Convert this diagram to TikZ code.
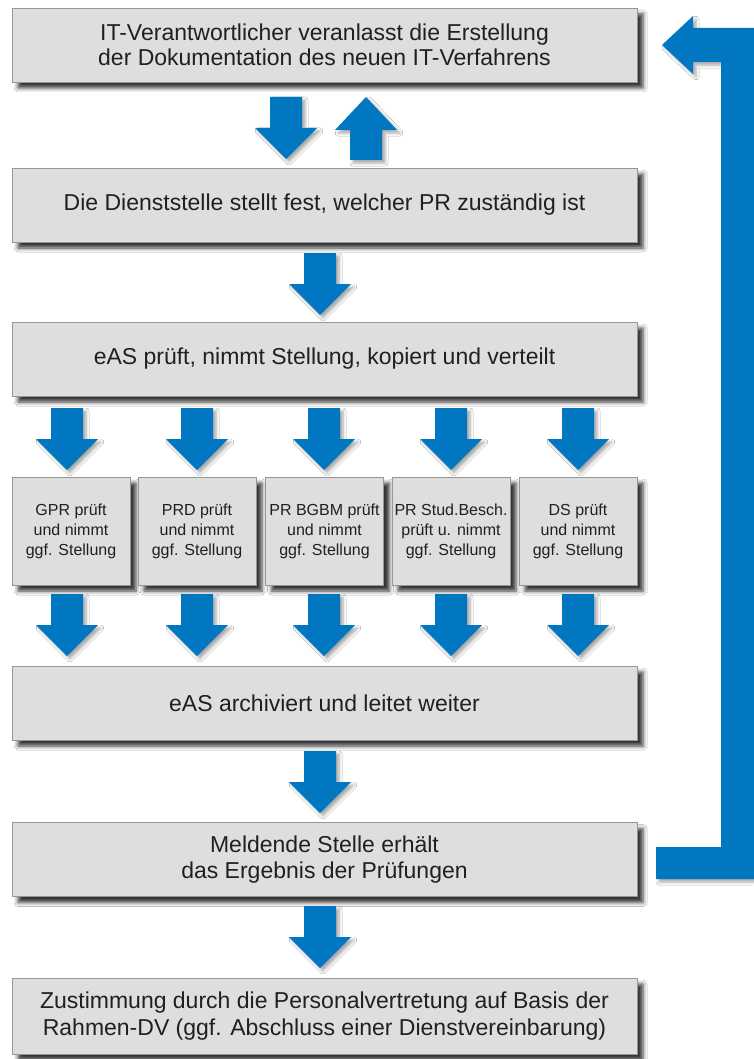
\documentclass[tikz,border=0pt]{standalone}
\usepackage{fontspec}
\setmainfont{Liberation Sans}
\usetikzlibrary{shadows.blur}
\definecolor{boxfill}{RGB}{222,222,220}
\definecolor{boxborder}{RGB}{150,150,150}
\definecolor{textcol}{RGB}{35,31,32}
\definecolor{arrowblue}{RGB}{0,119,192}
\tikzset{
  boxshadow/.style={blur shadow={shadow xshift=6pt, shadow yshift=-6pt, shadow blur radius=4pt, shadow opacity=80}},
  bigbox/.style={draw=boxborder, line width=0.8pt, fill=boxfill, text=textcol,
    align=center, inner sep=0pt, minimum width=625pt, minimum height=74pt,
    font=\fontsize{23}{26.5}\selectfont, boxshadow},
  smallbox/.style={draw=boxborder, line width=0.8pt, fill=boxfill, text=textcol,
    align=center, inner sep=0pt, minimum width=118pt, minimum height=108pt,
    font=\fontsize{16}{20}\selectfont, boxshadow},
  arrowfill/.style={fill=arrowblue,
    blur shadow={shadow xshift=3pt, shadow yshift=-3pt, shadow blur radius=3pt, shadow opacity=35}},
  pics/darr/.style={code={\fill[arrowfill] (-16,0) -- (16,0) -- (16,31) -- (31,31) -- (0,62) -- (-31,31) -- (-16,31) -- cycle;}},
  pics/uarr/.style={code={\fill[arrowfill] (-16,63) -- (16,63) -- (16,33) -- (31,33) -- (0,0) -- (-31,33) -- (-16,33) -- cycle;}},
}
\begin{document}
\begin{tikzpicture}[x=1pt, y=-1pt]
\useasboundingbox (0,0) rectangle (753,1059);
\fill[white] (0,0) rectangle (753,1059);

% main boxes
\node[bigbox, font=\fontsize{23}{25}\selectfont] (b1) at (324.5,45) {IT-Verantwortlicher veranlasst die Erstellung\\der Dokumentation des neuen IT-Verfahrens};
\node[bigbox] (b2) at (324.5,205) {Die Dienststelle stellt fest, welcher PR zuständig ist};
\node[bigbox] (b3) at (324.5,359) {eAS prüft, nimmt Stellung, kopiert und verteilt};
\node[smallbox] (s1) at (71,531) {GPR prüft\\und nimmt\\ggf. Stellung};
\node[smallbox] (s2) at (197,531) {PRD prüft\\und nimmt\\ggf. Stellung};
\node[smallbox] (s3) at (324.5,531) {PR BGBM prüft\\und nimmt\\ggf. Stellung};
\node[smallbox] (s4) at (451,531) {PR Stud.Besch.\\prüft u. nimmt\\ggf. Stellung};
\node[smallbox] (s5) at (578,531) {DS prüft\\und nimmt\\ggf. Stellung};
\node[bigbox] (b4) at (324.5,703) {eAS archiviert und leitet weiter};
\node[bigbox] (b5) at (324.5,859.5) {Meldende Stelle erhält\\das Ergebnis der Prüfungen};
\node[bigbox, minimum height=76pt] (b6) at (324.5,1016) {Zustimmung durch die Personalvertretung auf Basis der\\Rahmen-DV (ggf. Abschluss einer Dienstvereinbarung)};

% block arrows
\pic at (286,97) {darr};
\pic at (366,97) {uarr};
\pic at (320,253) {darr};
\foreach \x in {67,197,324,451,578} {
  \pic at (\x,408) {darr};
  \pic at (\x,594) {darr};
}
\pic at (320,751) {darr};
\pic at (320,906) {darr};

% feedback arrow
\fill[arrowfill] (662,45) -- (693,16) -- (693,28) -- (760,28) -- (760,879)
  -- (656,879) -- (656,847) -- (721,847) -- (721,62) -- (693,62) -- (693,74) -- cycle;
\end{tikzpicture}
\end{document}
